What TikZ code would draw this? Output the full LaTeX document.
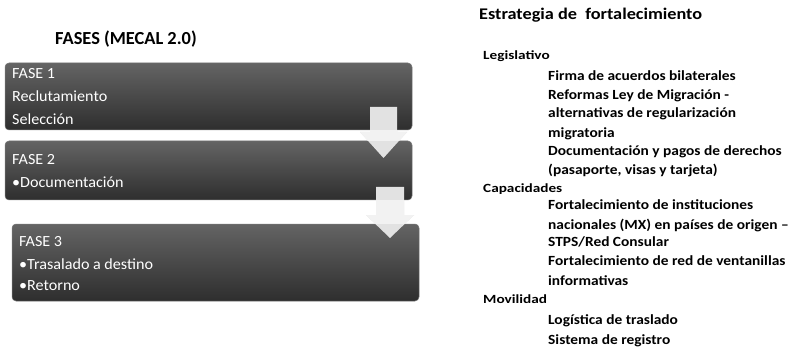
\documentclass[tikz,border=0pt]{standalone}
\usepackage{fontspec}
\setmainfont{Carlito}
\newfontfamily\boxfont[FakeStretch=1.04]{Carlito}
\newfontfamily\titlefont[FakeStretch=1.12]{Carlito}
\newfontfamily\catfont[FakeStretch=1.22]{Carlito}
\newfontfamily\itemfont[FakeStretch=1.1]{Carlito}
\definecolor{boxtop}{RGB}{100,100,100}
\definecolor{boxbot}{RGB}{46,46,46}
\definecolor{boxedge}{RGB}{120,120,120}
\definecolor{arrowgray}{RGB}{226,226,226}
\definecolor{gapgray}{RGB}{242,242,242}
\tikzset{
  phasebox/.style={rectangle, rounded corners=4pt, draw=boxedge, line width=0.5pt,
    top color=boxtop, bottom color=boxbot, inner sep=0pt, outer sep=0pt, anchor=north west},
  boxtext/.style={anchor=base west, inner sep=0pt, text=white, font=\boxfont\fontsize{15.5}{18}\selectfont},
  lefttitle/.style={anchor=base west, inner sep=0pt, font=\bfseries\fontsize{18.4}{21}\selectfont},
  righttitle/.style={anchor=base west, inner sep=0pt, font=\titlefont\bfseries\fontsize{16.3}{19}\selectfont},
  cattext/.style={anchor=base west, inner sep=0pt, font=\catfont\bfseries\fontsize{12.5}{15}\selectfont},
  itemtext/.style={anchor=base west, inner sep=0pt, font=\itemfont\bfseries\fontsize{14}{17}\selectfont},
}
\begin{document}
\begin{tikzpicture}[x=1pt,y=-1pt]
\useasboundingbox (0,0) rectangle (791,347);
\clip (0,0) rectangle (791,347);
\fill[white] (0,0) rectangle (791,347);

% left title
\node[lefttitle] (ltitle) at (55,45) {FASES (MECAL 2.0)};

% phase boxes
\node[phasebox, minimum width=407pt, minimum height=67pt] (b1) at (5,63) {};
\node[phasebox, minimum width=407pt, minimum height=59pt] (b2) at (5,141) {};
\node[phasebox, minimum width=407pt, minimum height=77pt] (b3) at (12,224) {};

% arrows
\fill[arrowgray] (370,107) -- (397,107) -- (397,132) -- (407,132) -- (383.5,158) -- (360,132) -- (370,132) -- cycle;
\begin{scope}
\clip (0,130.5) rectangle (791,140.5);
\fill[gapgray] (370,107) -- (397,107) -- (397,132) -- (407,132) -- (383.5,158) -- (360,132) -- (370,132) -- cycle;
\end{scope}
\fill[arrowgray] (376,187) -- (404,187) -- (404,215) -- (414,215) -- (390,238) -- (366,215) -- (376,215) -- cycle;
\begin{scope}
\clip (0,200.5) rectangle (791,223.5);
\fill[gapgray] (376,187) -- (404,187) -- (404,215) -- (414,215) -- (390,238) -- (366,215) -- (376,215) -- cycle;
\end{scope}

% box texts
\node[boxtext] (f1) at (12,78.3) {FASE 1};
\node[boxtext] (f1a) at (12,101.5) {Reclutamiento};
\node[boxtext] (f1b) at (12,125) {Selección};
\node[boxtext] (f2) at (12,165) {FASE 2};
\node[boxtext] (f2a) at (12,188) {•Documentación};
\node[boxtext] (f3) at (19,246) {FASE 3};
\node[boxtext] (f3a) at (19,269.5) {•Trasalado a destino};
\node[boxtext] (f3b) at (19,290) {•Retorno};

% right column
\node[righttitle] (rtitle) at (479,19.5) {Estrategia de\ \ fortalecimiento};
\node[cattext] (c1) at (483,59.3) {Legislativo};
\node[itemtext] (i1) at (548,80.7) {Firma de acuerdos bilaterales};
\node[itemtext] (i2) at (548,99.3) {Reformas Ley de Migración -};
\node[itemtext] (i3) at (548,117.3) {alternativas de regularización};
\node[itemtext] (i4) at (548,137.3) {migratoria};
\node[itemtext] (i5) at (548,155.7) {Documentación y pagos de derechos};
\node[itemtext] (i6) at (548,174.3) {(pasaporte, visas y tarjeta)};
\node[cattext] (c2) at (483,192.5) {Capacidades};
\node[itemtext] (i7) at (548,210) {Fortalecimiento de instituciones};
\node[itemtext] (i8) at (548,229.3) {nacionales (MX) en países de origen –};
\node[itemtext] (i9) at (548,246.7) {STPS/Red Consular};
\node[itemtext] (i10) at (548,265) {Fortalecimiento de red de ventanillas};
\node[itemtext] (i11) at (548,285) {informativas};
\node[cattext] (c3) at (483,303.3) {Movilidad};
\node[itemtext] (i12) at (548,324.5) {Logística de traslado};
\node[itemtext] (i13) at (548,344.5) {Sistema de registro};
\end{tikzpicture}
\end{document}
